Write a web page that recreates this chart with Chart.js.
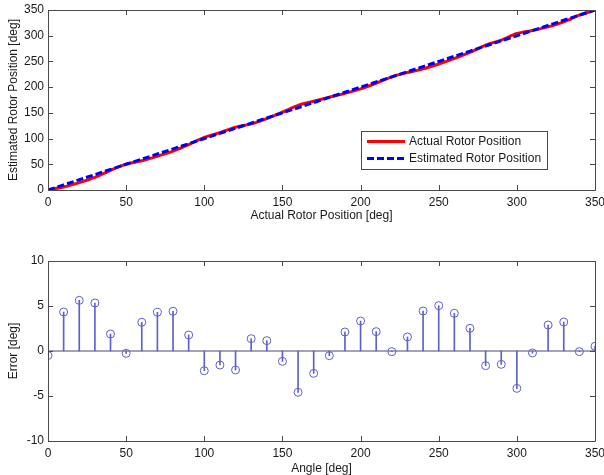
<!DOCTYPE html>
<html>
<head>
<meta charset="utf-8">
<script src="https://cdn.jsdelivr.net/npm/chart.js@4/dist/chart.umd.min.js"></script>
<style>
  html, body { margin: 0; padding: 0; background: #ffffff; }
  #wrap { position: relative; width: 604px; height: 475px; overflow: hidden; }
  .box { position: absolute; left: 0; width: 604px; }
  #top { top: 0; height: 223px; }
  #bot { top: 251px; height: 225px; }
</style>
</head>
<body>
<div id="wrap">
  <div class="box" id="top"><canvas id="c1"></canvas></div>
  <div class="box" id="bot"><canvas id="c2"></canvas></div>
</div>
<script>
// ---- data ----
const angles = [0,10,20,30,40,50,60,70,80,90,100,110,120,130,140,150,160,170,180,190,200,210,220,230,240,250,260,270,280,290,300,310,320,330,340,350];
const actualPos = [0.5,5.7,14.4,24.7,38.1,50.3,56.8,65.7,75.6,88.2,102.2,111.6,122.1,128.6,138.9,151.2,164.6,172.5,180.5,187.9,196.7,207.9,220.1,228.4,235.6,245.0,255.8,267.5,281.6,291.5,304.2,310.2,317.1,326.8,340.1,349.5];
const estimatedPos = [0,10,20,30,40,50,60,70,80,90,100,110,120,130,140,150,160,170,180,190,200,210,220,230,240,250,260,270,280,290,300,310,320,330,340,350];
const errorDeg = [-0.5,4.33,5.63,5.33,1.89,-0.26,3.19,4.30,4.41,1.78,-2.19,-1.56,-2.11,1.37,1.15,-1.15,-4.59,-2.48,-0.52,2.11,3.33,2.15,-0.07,1.56,4.44,5.04,4.19,2.52,-1.63,-1.48,-4.15,-0.22,2.89,3.22,-0.07,0.52];
const xTicks = [0,50,100,150,200,250,300,350];
const yTicksTop = [0,50,100,150,200,250,300,350];
const yTicksBot = [-10,-5,0,5,10];
const seriesLabels = ['Actual Rotor Position','Estimated Rotor Position'];

const FONT = '"Liberation Sans", Arial, Helvetica, sans-serif';
const AXIS_COLOR = '#4a4a4a';
const STEM_COLOR = 'rgb(95,95,205)';

Chart.defaults.font.family = FONT;
Chart.defaults.font.size = 12;
Chart.defaults.color = '#1a1a1a';
Chart.defaults.animation = false;

// box + inward ticks on all four sides
const matlabAxes = {
  id: 'matlabAxes',
  afterDraw(chart) {
    const {ctx, chartArea: a, scales} = chart;
    ctx.save();
    ctx.strokeStyle = AXIS_COLOR;
    ctx.lineWidth = 1;
    ctx.beginPath();
    ctx.rect(Math.round(a.left) + 0.5, Math.round(a.top) + 0.5, Math.round(a.right - a.left), Math.round(a.bottom - a.top));
    ctx.stroke();
    const L = 5;
    ctx.beginPath();
    scales.x.ticks.forEach(t => {
      const px = Math.round(scales.x.getPixelForValue(t.value)) + 0.5;
      ctx.moveTo(px, a.bottom); ctx.lineTo(px, a.bottom - L);
      ctx.moveTo(px, a.top); ctx.lineTo(px, a.top + L);
    });
    scales.y.ticks.forEach(t => {
      const py = Math.round(scales.y.getPixelForValue(t.value)) + 0.5;
      ctx.moveTo(a.left, py); ctx.lineTo(a.left + L, py);
      ctx.moveTo(a.right, py); ctx.lineTo(a.right - L, py);
    });
    ctx.stroke();
    ctx.restore();
  }
};

// MATLAB-style boxed legend inside the axes
const boxLegend = {
  id: 'boxLegend',
  afterDraw(chart) {
    const {ctx, chartArea: a} = chart;
    const w = 186, h = 38;
    const x0 = a.right - 48 - w, y0 = a.bottom - 21 - h;
    ctx.save();
    ctx.fillStyle = '#ffffff';
    ctx.fillRect(x0, y0, w, h);
    ctx.strokeStyle = AXIS_COLOR;
    ctx.lineWidth = 1;
    ctx.strokeRect(Math.round(x0) + 0.5, Math.round(y0) + 0.5, w, h);
    const rows = [y0 + 10.5, y0 + 27.5];
    chart.data.datasets.forEach((ds, i) => {
      ctx.beginPath();
      ctx.strokeStyle = ds.borderColor;
      ctx.lineWidth = 3;
      ctx.setLineDash(ds.borderDash || []);
      ctx.moveTo(x0 + 6, rows[i]); ctx.lineTo(x0 + 44, rows[i]);
      ctx.stroke();
      ctx.setLineDash([]);
      ctx.fillStyle = '#1a1a1a';
      ctx.font = '12px ' + FONT;
      ctx.textBaseline = 'middle';
      ctx.textAlign = 'left';
      ctx.fillText(ds.label, x0 + 48, rows[i]);
    });
    ctx.restore();
  }
};

function pts(xs, ys) { return xs.map((x, i) => ({x: x, y: ys[i]})); }

function xScale(title, h) {
  return {
    type: 'linear', min: 0, max: 350, offset: false,
    afterBuildTicks: s => { s.ticks = xTicks.map(v => ({value: v})); },
    grid: {display: false, drawTicks: false, offset: false},
    border: {display: false},
    ticks: {padding: 5, maxRotation: 0, autoSkip: false},
    title: {display: true, text: title, padding: {top: 0, bottom: 0}},
    afterFit: s => { s.height = h; s.paddingLeft = 0; s.paddingRight = 0; }
  };
}
function yScale(title, min, max, tickArr) {
  return {
    type: 'linear', min: min, max: max,
    afterBuildTicks: s => { s.ticks = tickArr.map(v => ({value: v})); },
    grid: {display: false, drawTicks: false},
    border: {display: false},
    ticks: {padding: 4, autoSkip: false},
    title: {display: true, text: title, padding: {top: 6, bottom: 0}},
    afterFit: s => { s.width = 48; s.paddingTop = 0; s.paddingBottom = 0; }
  };
}

new Chart(document.getElementById('c1'), {
  type: 'line',
  data: {
    datasets: [
      {label: seriesLabels[0], data: pts(angles, actualPos), borderColor: '#ff0000', borderWidth: 3, pointRadius: 0, tension: 0.3, fill: false, order: 2},
      {label: seriesLabels[1], data: pts(angles, estimatedPos), borderColor: '#0000ff', borderWidth: 3, borderDash: [7, 3], pointRadius: 0, tension: 0, fill: false, order: 1}
    ]
  },
  options: {
    responsive: true, maintainAspectRatio: false,
    layout: {padding: {top: 10, right: 9, left: 0, bottom: 0}},
    plugins: {legend: {display: false}, tooltip: {enabled: false}},
    scales: {
      x: xScale('Actual Rotor Position [deg]', 33),
      y: yScale('Estimated Rotor Position [deg]', 0, 350, yTicksTop)
    }
  },
  plugins: [matlabAxes, boxLegend]
});

new Chart(document.getElementById('c2'), {
  data: {
    datasets: [
      {type: 'line', label: 'baseline', data: [{x: 0, y: 0}, {x: 350, y: 0}], borderColor: 'rgb(70,70,120)', borderWidth: 1, pointRadius: 0, order: 3},
      {type: 'bar', label: 'stem', data: pts(angles, errorDeg), backgroundColor: STEM_COLOR, borderWidth: 0, barThickness: 1, grouped: false, order: 2},
      {type: 'scatter', label: 'Error', data: pts(angles, errorDeg), pointStyle: 'circle', pointRadius: 4, borderWidth: 1, borderColor: STEM_COLOR, backgroundColor: 'rgba(0,0,0,0)', showLine: false, order: 1}
    ]
  },
  options: {
    responsive: true, maintainAspectRatio: false,
    layout: {padding: {top: 10, right: 9, left: 0, bottom: 0}},
    plugins: {legend: {display: false}, tooltip: {enabled: false}},
    scales: {
      x: xScale('Angle [deg]', 35),
      y: yScale('Error [deg]', -10, 10, yTicksBot)
    }
  },
  plugins: [matlabAxes]
});
</script>
</body>
</html>
